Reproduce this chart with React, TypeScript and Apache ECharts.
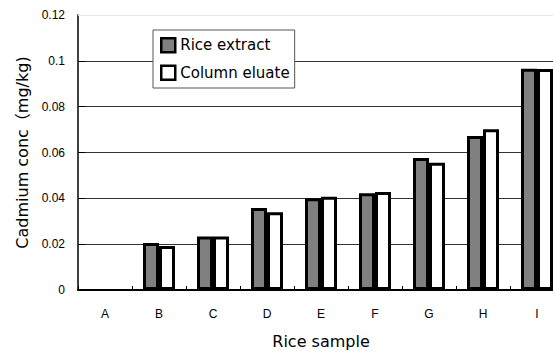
import React, { useEffect, useRef } from "react";
import * as echarts from "echarts";

const categories = ["A", "B", "C", "D", "E", "F", "G", "H", "I"];
const riceExtract = [0, 0.0205, 0.0233, 0.0358, 0.0400, 0.0422, 0.0576, 0.0672, 0.0965];
const columnEluate = [0, 0.0192, 0.0233, 0.0339, 0.0407, 0.0428, 0.0555, 0.0702, 0.0964];
const seriesNames = ["Rice extract", "Column eluate"];
const yTitle = "Cadmium conc（mg/kg)";
const xTitle = "Rice sample";

const FONT = "'Liberation Sans', Arial, 'Noto Sans CJK JP', sans-serif";
const WIDE = "'DejaVu Sans', 'Noto Sans CJK JP', sans-serif";

const toBarData = (arr: number[]) =>
  arr.map((v) => (v === 0 ? { value: v, itemStyle: { borderWidth: 0 } } : v));

export default function App() {
  const ref = useRef<HTMLDivElement>(null);
  useEffect(() => {
    document.body.style.margin = "0";
    const chart = echarts.init(ref.current!, null, { renderer: "svg" });
    chart.setOption({
      animation: false,
      backgroundColor: "#ffffff",
      textStyle: { fontFamily: FONT },
      grid: { left: 78, top: 15, right: -11, bottom: 62, containLabel: false, outerBoundsMode: "none" },
      legend: {
        orient: "vertical",
        left: 153,
        top: 30,
        backgroundColor: "#ffffff",
        borderColor: "#555",
        borderWidth: 1,
        padding: [7, 5, 7, 7],
        itemWidth: 14,
        itemHeight: 14,
        itemGap: 11,
        icon: "rect",
        data: seriesNames,
        textStyle: { fontSize: 15, color: "#000", fontFamily: WIDE, width: 112 },
        itemStyle: { borderColor: "#000", borderWidth: 2.5 },
      },
      xAxis: {
        type: "category",
        data: categories,
        name: xTitle,
        nameLocation: "middle",
        nameGap: 43,
        nameTextStyle: { fontSize: 16, color: "#000", fontFamily: WIDE },
        axisLine: { lineStyle: { color: "#000", width: 2 } },
        axisTick: { show: true, inside: true, length: 4, alignWithLabel: false, lineStyle: { color: "#000" } },
        axisLabel: { fontSize: 12, color: "#000", margin: 18, fontFamily: FONT },
        splitLine: { show: false },
      },
      yAxis: {
        type: "value",
        min: 0,
        max: 0.12,
        interval: 0.02,
        name: yTitle,
        nameLocation: "middle",
        nameGap: 48,
        nameTextStyle: { fontSize: 16, color: "#000", fontFamily: WIDE },
        axisLine: { show: true, lineStyle: { color: "#000", width: 1.5 } },
        axisTick: { show: true, inside: true, length: 7, lineStyle: { color: "#000" } },
        axisLabel: {
          fontSize: 12,
          color: "#000",
          margin: 13,
          fontFamily: FONT,
          formatter: (v: number) => String(+v.toFixed(2)),
        },
        splitLine: { show: true, showMinLine: false, showMaxLine: false, lineStyle: { color: "#333", width: 1 } },
      },
      series: [
        {
          name: seriesNames[0],
          type: "bar",
          data: toBarData(riceExtract),
          barWidth: 16,
          barGap: "0%",
          itemStyle: { color: "#808080", borderColor: "#000", borderWidth: 3 },
          markLine: {
            silent: true,
            symbol: "none",
            label: { show: false },
            lineStyle: { color: "#e6e6e6", type: "solid", width: 1 },
            data: [{ yAxis: 0.12 }],
          },
        },
        {
          name: seriesNames[1],
          type: "bar",
          data: toBarData(columnEluate),
          barWidth: 16,
          barGap: "0%",
          itemStyle: { color: "#ffffff", borderColor: "#000", borderWidth: 3 },
        },
      ],
    });
    return () => chart.dispose();
  }, []);
  return <div ref={ref} style={{ width: 553, height: 352 }} />;
}
